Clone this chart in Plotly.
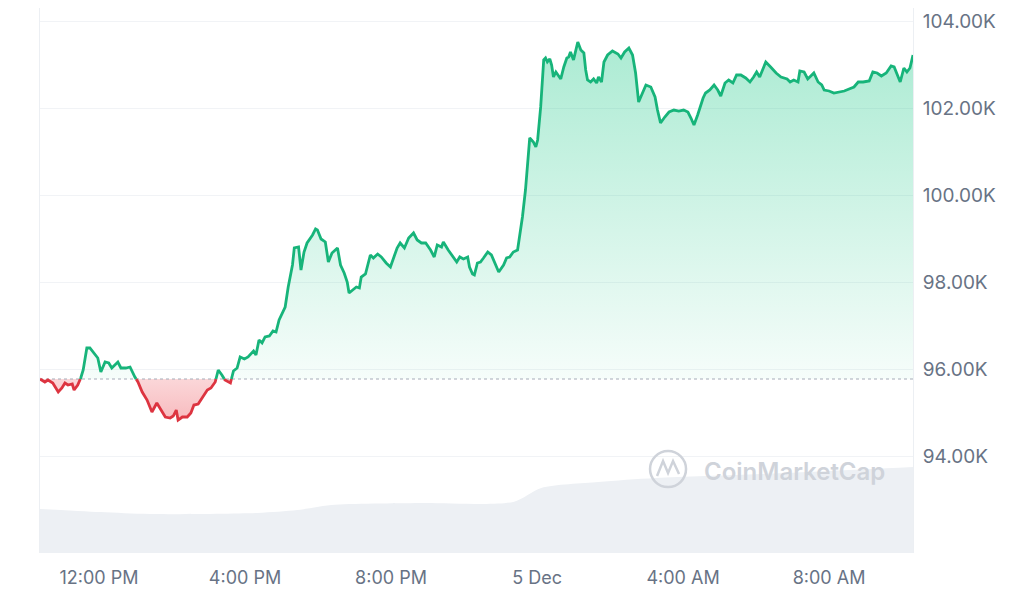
import numpy as np
import pandas as pd
import plotly.graph_objects as go

# ---------------- data ----------------
times = [
    "2024-12-04 10:23", "2024-12-04 10:31", "2024-12-04 10:36", "2024-12-04 10:44", "2024-12-04 10:53",
    "2024-12-04 10:59", "2024-12-04 11:04", "2024-12-04 11:09", "2024-12-04 11:16", "2024-12-04 11:19",
    "2024-12-04 11:25", "2024-12-04 11:30", "2024-12-04 11:34", "2024-12-04 11:40", "2024-12-04 11:45",
    "2024-12-04 11:52", "2024-12-04 11:58", "2024-12-04 12:03", "2024-12-04 12:10", "2024-12-04 12:16",
    "2024-12-04 12:21", "2024-12-04 12:31", "2024-12-04 12:36", "2024-12-04 12:44", "2024-12-04 12:51",
    "2024-12-04 12:59", "2024-12-04 13:04", "2024-12-04 13:11", "2024-12-04 13:19", "2024-12-04 13:27",
    "2024-12-04 13:35", "2024-12-04 13:42", "2024-12-04 13:49", "2024-12-04 13:57", "2024-12-04 14:02",
    "2024-12-04 14:07", "2024-12-04 14:10", "2024-12-04 14:17", "2024-12-04 14:25", "2024-12-04 14:31",
    "2024-12-04 14:36", "2024-12-04 14:43", "2024-12-04 14:50", "2024-12-04 14:58", "2024-12-04 15:04",
    "2024-12-04 15:11", "2024-12-04 15:16", "2024-12-04 15:22", "2024-12-04 15:27", "2024-12-04 15:36",
    "2024-12-04 15:41", "2024-12-04 15:47", "2024-12-04 15:52", "2024-12-04 15:59", "2024-12-04 16:05",
    "2024-12-04 16:14", "2024-12-04 16:18", "2024-12-04 16:23", "2024-12-04 16:28", "2024-12-04 16:33",
    "2024-12-04 16:40", "2024-12-04 16:46", "2024-12-04 16:51", "2024-12-04 16:56", "2024-12-04 17:03",
    "2024-12-04 17:06", "2024-12-04 17:11", "2024-12-04 17:18", "2024-12-04 17:21", "2024-12-04 17:28",
    "2024-12-04 17:32", "2024-12-04 17:37", "2024-12-04 17:42", "2024-12-04 17:51", "2024-12-04 17:56",
    "2024-12-04 17:59", "2024-12-04 18:05", "2024-12-04 18:12", "2024-12-04 18:17", "2024-12-04 18:23",
    "2024-12-04 18:32", "2024-12-04 18:37", "2024-12-04 18:43", "2024-12-04 18:48", "2024-12-04 18:51",
    "2024-12-04 18:58", "2024-12-04 19:03", "2024-12-04 19:08", "2024-12-04 19:11", "2024-12-04 19:18",
    "2024-12-04 19:26", "2024-12-04 19:31", "2024-12-04 19:38", "2024-12-04 19:44", "2024-12-04 19:52",
    "2024-12-04 19:59", "2024-12-04 20:04", "2024-12-04 20:10", "2024-12-04 20:15", "2024-12-04 20:22",
    "2024-12-04 20:29", "2024-12-04 20:37", "2024-12-04 20:43", "2024-12-04 20:50", "2024-12-04 20:57",
    "2024-12-04 21:05", "2024-12-04 21:11", "2024-12-04 21:16", "2024-12-04 21:23", "2024-12-04 21:26",
    "2024-12-04 21:34", "2024-12-04 21:43", "2024-12-04 21:48", "2024-12-04 21:53", "2024-12-04 21:59",
    "2024-12-04 22:06", "2024-12-04 22:09", "2024-12-04 22:14", "2024-12-04 22:17", "2024-12-04 22:22",
    "2024-12-04 22:27", "2024-12-04 22:32", "2024-12-04 22:39", "2024-12-04 22:45", "2024-12-04 22:50",
    "2024-12-04 22:57", "2024-12-04 23:05", "2024-12-04 23:10", "2024-12-04 23:15", "2024-12-04 23:21",
    "2024-12-04 23:28", "2024-12-04 23:31", "2024-12-04 23:36", "2024-12-04 23:41", "2024-12-04 23:45",
    "2024-12-04 23:48", "2024-12-04 23:54", "2024-12-04 23:58", "2024-12-05 00:01", "2024-12-05 00:06",
    "2024-12-05 00:11", "2024-12-05 00:14", "2024-12-05 00:17", "2024-12-05 00:21", "2024-12-05 00:24",
    "2024-12-05 00:27", "2024-12-05 00:31", "2024-12-05 00:34", "2024-12-05 00:39", "2024-12-05 00:44",
    "2024-12-05 00:49", "2024-12-05 00:52", "2024-12-05 00:55", "2024-12-05 01:00", "2024-12-05 01:04",
    "2024-12-05 01:07", "2024-12-05 01:12", "2024-12-05 01:17", "2024-12-05 01:20", "2024-12-05 01:23",
    "2024-12-05 01:28", "2024-12-05 01:33", "2024-12-05 01:38", "2024-12-05 01:41", "2024-12-05 01:46",
    "2024-12-05 01:50", "2024-12-05 01:56", "2024-12-05 02:04", "2024-12-05 02:13", "2024-12-05 02:18",
    "2024-12-05 02:24", "2024-12-05 02:31", "2024-12-05 02:37", "2024-12-05 02:42", "2024-12-05 02:47",
    "2024-12-05 02:54", "2024-12-05 02:59", "2024-12-05 03:07", "2024-12-05 03:14", "2024-12-05 03:18",
    "2024-12-05 03:23", "2024-12-05 03:30", "2024-12-05 03:37", "2024-12-05 03:45", "2024-12-05 03:53",
    "2024-12-05 04:01", "2024-12-05 04:08", "2024-12-05 04:13", "2024-12-05 04:18", "2024-12-05 04:24",
    "2024-12-05 04:33", "2024-12-05 04:37", "2024-12-05 04:44", "2024-12-05 04:51", "2024-12-05 04:57",
    "2024-12-05 05:02", "2024-12-05 05:09", "2024-12-05 05:15", "2024-12-05 05:22", "2024-12-05 05:28",
    "2024-12-05 05:35", "2024-12-05 05:43", "2024-12-05 05:50", "2024-12-05 05:56", "2024-12-05 06:01",
    "2024-12-05 06:06", "2024-12-05 06:16", "2024-12-05 06:24", "2024-12-05 06:33", "2024-12-05 06:41",
    "2024-12-05 06:51", "2024-12-05 06:56", "2024-12-05 07:02", "2024-12-05 07:09", "2024-12-05 07:12",
    "2024-12-05 07:19", "2024-12-05 07:25", "2024-12-05 07:30", "2024-12-05 07:35", "2024-12-05 07:42",
    "2024-12-05 07:48", "2024-12-05 07:52", "2024-12-05 08:00", "2024-12-05 08:08", "2024-12-05 08:16",
    "2024-12-05 08:25", "2024-12-05 08:33", "2024-12-05 08:41", "2024-12-05 08:48", "2024-12-05 08:56",
    "2024-12-05 09:06", "2024-12-05 09:12", "2024-12-05 09:19", "2024-12-05 09:26", "2024-12-05 09:34",
    "2024-12-05 09:42", "2024-12-05 09:47", "2024-12-05 09:54", "2024-12-05 09:57", "2024-12-05 10:03",
    "2024-12-05 10:08", "2024-12-05 10:13", "2024-12-05 10:18",
]

prices = [
    95770, 95701, 95747, 95678, 95471,
    95563, 95678, 95632, 95655, 95517,
    95632, 95793, 95977, 96483, 96483,
    96345, 96253, 95931, 96161, 96138,
    96023, 96161, 96023, 96023, 96046,
    95816, 95701, 95471, 95287, 95011,
    95218, 95057, 94896, 94873, 94919,
    95057, 94827, 94896, 94896, 94988,
    95172, 95195, 95356, 95517, 95563,
    95701, 95977, 95862, 95747, 95678,
    95954, 96023, 96276, 96230, 96276,
    96414, 96322, 96667, 96598, 96736,
    96759, 96874, 96851, 97127, 97310,
    97425, 97885, 98391, 98782, 98805,
    98276, 98690, 98897, 99081, 99219,
    99196, 98989, 98920, 98460, 98667,
    98782, 98391, 98207, 98000, 97747,
    97816, 97885, 97862, 98115, 98184,
    98621, 98552, 98644, 98575, 98437,
    98345, 98552, 98782, 98897, 98782,
    99012, 99127, 98966, 98897, 98897,
    98736, 98575, 98851, 98805, 98920,
    98736, 98552, 98460, 98575, 98529,
    98575, 98345, 98184, 98161, 98437,
    98460, 98552, 98690, 98621, 98460,
    98230, 98391, 98552, 98575, 98690,
    98736, 99035, 99494, 100115, 100736,
    101311, 101219, 101104, 101265, 102024,
    103105, 103150, 103058, 103127, 102989,
    102713, 102828, 102759, 102667, 102943,
    103150, 103173, 103288, 103105, 103380,
    103518, 103334, 103265, 102874, 102644,
    102598, 102667, 102575, 102713, 102598,
    103058, 103219, 103311, 103242, 103150,
    103288, 103380, 103219, 102805, 102138,
    102345, 102529, 102483, 102253, 101954,
    101655, 101793, 101908, 101954, 101931,
    101954, 101908, 101770, 101610, 101839,
    102230, 102345, 102414, 102529, 102414,
    102276, 102575, 102644, 102575, 102759,
    102759, 102690, 102598, 102713, 102828,
    102713, 103058, 102943, 102805, 102713,
    102667, 102598, 102644, 102598, 102851,
    102828, 102667, 102736, 102805, 102598,
    102529, 102414, 102391, 102345, 102368,
    102391, 102437, 102483, 102598, 102598,
    102621, 102828, 102805, 102736, 102805,
    102966, 102943, 102713, 102598, 102920,
    102828, 102920, 103219,
]

vol_times = [
    "2024-12-04 10:23", "2024-12-04 12:02", "2024-12-04 13:24", "2024-12-04 16:20",
    "2024-12-04 17:26", "2024-12-04 18:22", "2024-12-04 20:48", "2024-12-04 23:21",
    "2024-12-05 00:07", "2024-12-05 01:41", "2024-12-05 03:15", "2024-12-05 06:08",
    "2024-12-05 10:18",
]
volumes = [19.9, 18.5, 17.6, 18.1, 19.4, 21.7, 22.6, 23.1, 29.4, 32.1, 33.9, 35.7, 38.9]  # billions USD

y_tick_vals = [94000, 96000, 98000, 100000, 102000, 104000]
y_tick_text = ["94.00K", "96.00K", "98.00K", "100.00K", "102.00K", "104.00K"]
x_tick_vals = ["2024-12-04 12:00", "2024-12-04 16:00", "2024-12-04 20:00",
               "2024-12-05 00:00", "2024-12-05 04:00", "2024-12-05 08:00"]
x_tick_text = ["12:00 PM", "4:00 PM", "8:00 PM", "5 Dec", "4:00 AM", "8:00 AM"]

GREEN = "#17b47a"
RED = "#dd3440"
FONT = "Inter"
TICK_COLOR = "#687385"

# ---------------- split line at the opening price ----------------
t = pd.to_datetime(times)
p = np.array(prices, dtype=float)
base = p[0]
tn = t.astype("int64").to_numpy().astype(float)

xs, ys = [tn[0]], [p[0]]
for i in range(1, len(p)):
    a, b = p[i - 1] - base, p[i] - base
    if a * b < 0:
        f = a / (a - b)
        xs.append(tn[i - 1] + f * (tn[i] - tn[i - 1]))
        ys.append(base)
    xs.append(tn[i])
    ys.append(p[i])
X = pd.to_datetime(np.array(xs).astype("int64"))
Y = np.array(ys)

up_line = np.where(Y >= base, Y, np.nan)
dn_line = np.where(Y <= base, Y, np.nan)
up_fill = np.maximum(Y, base)
dn_fill = np.minimum(Y, base)
base_arr = np.full(len(Y), base)

fig = go.Figure()

# volume area (secondary axis)
fig.add_trace(go.Scatter(
    x=pd.to_datetime(vol_times), y=volumes, yaxis="y2", mode="lines",
    line=dict(color="#edf0f4", width=0, shape="spline", smoothing=0.8),
    fill="tozeroy", fillcolor="#edf0f4", hoverinfo="skip", showlegend=False,
))

# green fill
fig.add_trace(go.Scatter(x=X, y=base_arr, mode="lines", line=dict(width=0),
                         hoverinfo="skip", showlegend=False))
fig.add_trace(go.Scatter(
    x=X, y=up_fill, mode="lines", line=dict(width=0), fill="tonexty",
    fillgradient=dict(type="vertical",
                      colorscale=[[0, "rgba(22,199,132,0.04)"], [1, "rgba(22,199,132,0.36)"]],
                      start=base, stop=float(p.max())),
    hoverinfo="skip", showlegend=False,
))
# red fill
fig.add_trace(go.Scatter(x=X, y=base_arr, mode="lines", line=dict(width=0),
                         hoverinfo="skip", showlegend=False))
fig.add_trace(go.Scatter(
    x=X, y=dn_fill, mode="lines", line=dict(width=0), fill="tonexty",
    fillgradient=dict(type="vertical",
                      colorscale=[[0, "rgba(234,57,67,0.2)"], [1, "rgba(234,57,67,0.34)"]],
                      start=base, stop=float(p.min())),
    hoverinfo="skip", showlegend=False,
))

# dotted opening-price line
fig.add_trace(go.Scatter(
    x=[t[0], t[-1]], y=[base, base], mode="lines",
    line=dict(color="#a6acb8", width=1.2, dash="dot"),
    hoverinfo="skip", showlegend=False,
))

# price lines
fig.add_trace(go.Scatter(x=X, y=dn_line, mode="lines",
                         line=dict(color=RED, width=2.8), showlegend=False))
fig.add_trace(go.Scatter(x=X, y=up_line, mode="lines",
                         line=dict(color=GREEN, width=2.8), showlegend=False))

# watermark
fig.add_annotation(
    text="CoinMarketCap", xref="paper", yref="paper", x=0.8637, y=0.150,
    showarrow=False, xanchor="center", yanchor="middle",
    font=dict(family=FONT, size=24, color="#cfd3da", weight=600),
)
fig.add_shape(type="circle", xref="paper", yref="paper",
              xsizemode="pixel", ysizemode="pixel", xanchor=0.7194, yanchor=0.154,
              x0=-18, x1=18, y0=-18, y1=18, line=dict(color="#cfd3da", width=2.5))
fig.add_shape(type="path", xref="paper", yref="paper",
              xsizemode="pixel", ysizemode="pixel", xanchor=0.7194, yanchor=0.154,
              path="M -11,-7 L -5,8 L 0,-4 L 5,8 L 11,-5",
              line=dict(color="#cfd3da", width=2.5))

# page body has an 8px margin: figure is sized so the plot area lands where the reference has it
fig.update_layout(
    width=1016, height=583,
    margin=dict(l=32, r=111, t=0, b=38),
    paper_bgcolor="white", plot_bgcolor="white",
    font=dict(family=FONT, color=TICK_COLOR),
    hovermode=False,
    xaxis=dict(
        type="date", range=[t[0], t[-1]],
        tickvals=x_tick_vals, ticktext=x_tick_text,
        showgrid=False, zeroline=False, showline=False,
        ticks="outside", ticklen=8, tickcolor="rgba(0,0,0,0)",
        tickfont=dict(family=FONT, size=18, color=TICK_COLOR),
    ),
    yaxis=dict(
        side="right", range=[91770, 104299],
        tickvals=y_tick_vals, ticktext=y_tick_text,
        showgrid=True, gridcolor="#f1f3f6", gridwidth=1, zeroline=False,
        showline=True, linecolor="#eceff3", linewidth=1,
        ticks="outside", ticklen=5, tickcolor="rgba(0,0,0,0)",
        tickfont=dict(family=FONT, size=19, color=TICK_COLOR),
    ),
    yaxis2=dict(
        overlaying="y", side="left", range=[0, 246.4],
        showgrid=False, zeroline=False, showticklabels=False,
        showline=True, linecolor="#eceff3", linewidth=1,
    ),
)

fig.write_html("out.html")
